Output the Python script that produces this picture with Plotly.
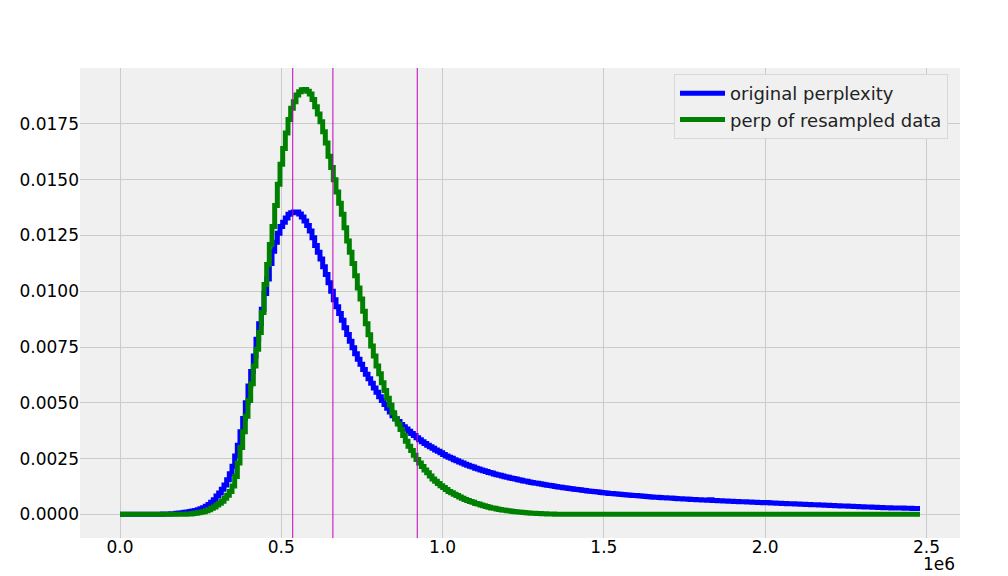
import numpy as np
import plotly.graph_objects as go

# ---- data ----
bin_start = 0.0
bin_end = 2.48e6
n_bins = 300

# bin heights, in units of 1e-3 (density), 300 equal bins from bin_start to bin_end
original_perplexity_e3 = [
    0, 0, 0, 0, 0, 0, 0, 0, 0, 0,
    0.005, 0.005, 0.005, 0.01, 0.01, 0.01, 0.015, 0.02, 0.02, 0.025,
    0.03, 0.045, 0.06, 0.07, 0.09, 0.11, 0.13, 0.15, 0.17, 0.21,
    0.25, 0.30, 0.36, 0.44, 0.54, 0.65, 0.82, 0.96, 1.12, 1.32,
    1.55, 1.82, 2.16, 2.62, 3.10, 3.70, 4.30, 5.00, 5.75, 6.40,
    7.10, 7.85, 8.55, 9.20, 9.90, 10.55, 11.25, 11.8, 12.2, 12.6,
    12.9, 13.1, 13.28, 13.45, 13.52, 13.56, 13.55, 13.46, 13.33, 13.15,
    12.95, 12.7, 12.4, 12.05, 11.75, 11.45, 11.1, 10.75, 10.38, 10.0,
    9.62, 9.31, 9.0, 8.7, 8.37, 8.06, 7.76, 7.47, 7.2, 6.95,
    6.73, 6.49, 6.28, 6.08, 5.88, 5.67, 5.47, 5.27, 5.1, 4.92,
    4.76, 4.59, 4.42, 4.29, 4.16, 4.03, 3.93, 3.83, 3.73, 3.63,
    3.53, 3.43, 3.34, 3.26, 3.18, 3.10, 3.03, 2.96, 2.89, 2.83,
    2.76, 2.68, 2.62, 2.56, 2.51, 2.45, 2.40, 2.35, 2.30, 2.25,
    2.20, 2.16, 2.12, 2.07, 2.03, 1.99, 1.95, 1.92, 1.88, 1.85,
    1.81, 1.78, 1.75, 1.72, 1.69, 1.66, 1.63, 1.61, 1.58, 1.55,
    1.53, 1.50, 1.48, 1.45, 1.43, 1.41, 1.39, 1.37, 1.35, 1.33,
    1.31, 1.29, 1.27, 1.25, 1.23, 1.21, 1.19, 1.18, 1.16, 1.15,
    1.13, 1.11, 1.10, 1.08, 1.07, 1.05, 1.04, 1.02, 1.01, 1.00,
    0.98, 0.97, 0.96, 0.94, 0.93, 0.92, 0.91, 0.90, 0.89, 0.88,
    0.87, 0.86, 0.85, 0.84, 0.83, 0.82, 0.81, 0.80, 0.79, 0.78,
    0.77, 0.765, 0.76, 0.75, 0.74, 0.735, 0.73, 0.72, 0.71, 0.705,
    0.70, 0.69, 0.685, 0.68, 0.67, 0.665, 0.66, 0.65, 0.645, 0.64,
    0.635, 0.66, 0.625, 0.62, 0.61, 0.605, 0.60, 0.595, 0.59, 0.585,
    0.58, 0.575, 0.57, 0.565, 0.56, 0.555, 0.55, 0.545, 0.54, 0.535,
    0.53, 0.525, 0.535, 0.515, 0.51, 0.505, 0.50, 0.495, 0.49, 0.485,
    0.48, 0.475, 0.47, 0.465, 0.46, 0.455, 0.45, 0.445, 0.44, 0.435,
    0.43, 0.425, 0.42, 0.415, 0.41, 0.405, 0.40, 0.395, 0.39, 0.385,
    0.38, 0.375, 0.37, 0.365, 0.36, 0.355, 0.35, 0.345, 0.34, 0.335,
    0.33, 0.325, 0.32, 0.315, 0.31, 0.305, 0.30, 0.30, 0.295, 0.29,
    0.29, 0.285, 0.28, 0.28, 0.275, 0.27, 0.27, 0.265, 0.26, 0.26,
]

resampled_perplexity_e3 = [
    0, 0, 0, 0, 0, 0, 0, 0, 0, 0,
    0, 0, 0, 0, 0, 0, 0, 0, 0, 0,
    0, 0, 0, 0.005, 0.01, 0.015, 0.02, 0.035, 0.05, 0.07,
    0.09, 0.12, 0.16, 0.21, 0.27, 0.33, 0.42, 0.50, 0.59, 0.72,
    0.86, 1.02, 1.27, 1.70, 2.30, 3.00, 3.70, 4.40, 5.10, 5.85,
    6.65, 7.40, 8.15, 9.05, 10.3, 11.2, 12.1, 12.9, 13.85, 14.8,
    15.7, 16.4, 17.1, 17.7, 18.2, 18.5, 18.8, 18.95, 19.03, 19.05,
    18.97, 18.85, 18.6, 18.27, 17.95, 17.6, 17.15, 16.65, 16.05, 15.55,
    15.0, 14.45, 13.95, 13.45, 12.85, 12.25, 11.75, 11.25, 10.7, 10.15,
    9.65, 9.1, 8.55, 8.05, 7.55, 7.1, 6.65, 6.3, 5.9, 5.55,
    5.2, 4.9, 4.55, 4.28, 4.05, 3.8, 3.53, 3.28, 3.05, 2.86,
    2.65, 2.46, 2.30, 2.14, 1.99, 1.86, 1.72, 1.59, 1.48, 1.38,
    1.28, 1.20, 1.11, 1.03, 0.97, 0.90, 0.84, 0.78, 0.72, 0.67,
    0.62, 0.58, 0.54, 0.49, 0.46, 0.42, 0.39, 0.35, 0.32, 0.29,
    0.27, 0.24, 0.22, 0.20, 0.18, 0.16, 0.15, 0.13, 0.12, 0.11,
    0.095, 0.085, 0.075, 0.065, 0.055, 0.045, 0.04, 0.035, 0.03, 0.025,
    0.02, 0.015, 0.012, 0.01, 0.008, 0.006, 0.005, 0.004, 0.003, 0.002,
    0, 0, 0, 0, 0, 0, 0, 0, 0, 0,
    0, 0, 0, 0, 0, 0, 0, 0, 0, 0,
    0, 0, 0, 0, 0, 0, 0, 0, 0, 0,
    0, 0, 0, 0, 0, 0, 0, 0, 0, 0,
    0, 0, 0, 0, 0, 0, 0, 0, 0, 0,
    0, 0, 0, 0, 0, 0, 0, 0, 0, 0,
    0, 0, 0, 0, 0, 0, 0, 0, 0, 0,
    0, 0, 0, 0, 0, 0, 0, 0, 0, 0,
    0, 0, 0, 0, 0, 0, 0, 0, 0, 0,
    0, 0, 0, 0, 0, 0, 0, 0, 0, 0,
    0, 0, 0, 0, 0, 0, 0, 0, 0, 0,
    0, 0, 0, 0, 0, 0, 0, 0, 0, 0,
    0, 0, 0, 0, 0, 0, 0, 0, 0, 0,
]

vline_x = [0.5355e6, 0.660e6, 0.9215e6]

series_names = ["original perplexity", "perp of resampled data"]
series_colors = ["#0000ff", "#008000"]

x_tickvals = [0, 0.5e6, 1.0e6, 1.5e6, 2.0e6, 2.5e6]
x_ticktext = ["0.0", "0.5", "1.0", "1.5", "2.0", "2.5"]
y_tickvals = [0, 0.0025, 0.005, 0.0075, 0.01, 0.0125, 0.015, 0.0175]
y_ticktext = ["0.0000", "0.0025", "0.0050", "0.0075", "0.0100", "0.0125", "0.0150", "0.0175"]

# ---- build ----
edges = np.linspace(bin_start, bin_end, n_bins + 1)

fig = go.Figure()
for name, color, vals in zip(series_names, series_colors,
                             [original_perplexity_e3, resampled_perplexity_e3]):
    h = np.array(vals) * 1e-3
    y = np.concatenate([h, h[-1:]])
    fig.add_trace(go.Scatter(
        x=edges, y=y, mode="lines", name=name,
        line=dict(color=color, width=5, shape="hv"),
    ))

for xv in vline_x:
    fig.add_shape(type="line", x0=xv, x1=xv, y0=0, y1=1, xref="x", yref="paper",
                  line=dict(color="#bf00bf", width=1), layer="above")

# page body has an 8px margin; the paper is 1000x568 and starts at (8, 8)
PL, PT, PR, PB = 80, 68, 960, 538  # plot area in window pixels
fig.add_annotation(text="1e6", xref="paper", yref="paper",
                   x=(957 - PL) / (PR - PL), y=-(564 - PB) / (PB - PT),
                   xanchor="right", yanchor="middle", showarrow=False,
                   font=dict(size=17, color="black", family="DejaVu Sans"))

fig.update_layout(
    width=1000, height=568,
    margin=dict(l=72, r=48, t=60, b=38),
    paper_bgcolor="white",
    plot_bgcolor="#f0f0f0",
    font=dict(family="DejaVu Sans", size=17, color="black"),
    showlegend=True,
    legend=dict(
        x=(948 - PL) / (PR - PL), y=(PB - 74) / (PB - PT), xanchor="right", yanchor="top",
        bgcolor="#f0f0f0", bordercolor="#d8d8d8", borderwidth=1,
        font=dict(size=18, family="DejaVu Sans", color="#222222"),
        itemwidth=45,
    ),
    xaxis=dict(
        range=[-0.124e6, 2.604e6], tickvals=x_tickvals, ticktext=x_ticktext,
        showgrid=True, gridcolor="#cbcbcb", gridwidth=1, zeroline=False,
        showline=False, ticks="", ticklabelstandoff=-3,
    ),
    yaxis=dict(
        range=[-0.00106, 0.02001], tickvals=y_tickvals, ticktext=y_ticktext,
        showgrid=True, gridcolor="#cbcbcb", gridwidth=1, zeroline=False,
        showline=False, ticks="", ticklabelstandoff=0,
    ),
)

fig.write_html("out.html")
